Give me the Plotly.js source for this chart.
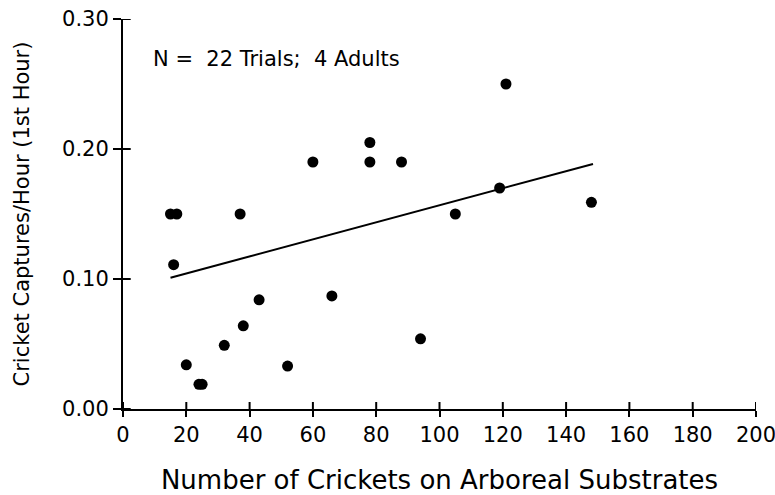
<!DOCTYPE html>
<html>
<head>
<meta charset="utf-8">
<script src="https://cdn.plot.ly/plotly-3.0.1.min.js"></script>
<style>html,body{margin:0;padding:0;background:#fff;}#chart{width:775px;height:495px;}</style>
</head>
<body>
<div id="chart"></div>
<script>
// Number of crickets on arboreal substrates (x) vs captures per hour (y)
const crickets = [15, 17, 16, 37, 20, 24, 25, 32, 38, 43, 52, 66, 94, 60, 78, 78, 88, 121, 119, 105, 148];
const captures = [0.150, 0.150, 0.111, 0.150, 0.034, 0.019, 0.019, 0.049, 0.064, 0.084, 0.033, 0.087, 0.054, 0.190, 0.205, 0.190, 0.190, 0.250, 0.170, 0.150, 0.159];
// Regression line endpoints as drawn
const fitX = [15, 148.5];
const fitY = [0.101, 0.1885];
const xRange = [0, 200];
const yRange = [0, 0.30];
const xTicks = [0, 20, 40, 60, 80, 100, 120, 140, 160, 180, 200];
const yTicks = [0.00, 0.10, 0.20, 0.30];
const noteText = "N =  22 Trials;  4 Adults";
const xTitle = "Number of Crickets on Arboreal Substrates";
const yTitle = "Cricket Captures/Hour (1st Hour)";

const font = "DejaVu Sans, Liberation Sans, sans-serif";

const traces = [
  {x: fitX, y: fitY, mode: 'lines', line: {color: '#000', width: 2}, hoverinfo: 'skip', showlegend: false},
  {x: crickets, y: captures, mode: 'markers', marker: {color: '#000', size: 11}, showlegend: false},
  // inner half of the cross-through tick marks at the axis tick positions
  {x: xTicks, y: xTicks.map(() => yRange[0]), mode: 'markers', hoverinfo: 'skip', showlegend: false,
   marker: {symbol: 'line-ns-open', size: 10, color: '#000', line: {color: '#000', width: 2}}},
  {x: yTicks.map(() => xRange[0]), y: yTicks, mode: 'markers', hoverinfo: 'skip', showlegend: false,
   marker: {symbol: 'line-ew-open', size: 11, color: '#000', line: {color: '#000', width: 2}}}
];

const layout = {
  width: 775, height: 495,
  margin: {l: 123, r: 19, t: 19, b: 86},
  paper_bgcolor: '#fff', plot_bgcolor: '#fff',
  showlegend: false,
  font: {family: font, color: '#000'},
  xaxis: {
    range: xRange, tickmode: 'array', tickvals: xTicks, ticktext: xTicks.map(String),
    showgrid: false, zeroline: false, showline: true, linecolor: '#000', linewidth: 2,
    ticks: 'outside', ticklen: 6, tickwidth: 2, tickcolor: '#000',
    tickfont: {family: font, size: 21, color: '#000'}, ticklabeloverflow: 'allow',
    title: {text: xTitle, font: {family: font, size: 26, color: '#000'}, standoff: 26},
    automargin: false, fixedrange: true
  },
  yaxis: {
    range: yRange, tickmode: 'array', tickvals: yTicks, ticktext: yTicks.map(v => v.toFixed(2)),
    showgrid: false, zeroline: false, showline: true, linecolor: '#000', linewidth: 2,
    ticks: 'outside', ticklen: 8, tickwidth: 2, tickcolor: '#000',
    tickfont: {family: font, size: 21, color: '#000'}, ticklabeloverflow: 'allow',
    title: {text: yTitle, font: {family: font, size: 21, color: '#000'}, standoff: 27},
    automargin: false, fixedrange: true
  },
  annotations: [{
    x: 9, y: 0.269, xref: 'x', yref: 'y', xanchor: 'left', yanchor: 'middle',
    text: noteText, showarrow: false, font: {family: font, size: 21, color: '#000'}
  }]
};

Plotly.newPlot('chart', traces, layout, {displayModeBar: false, staticPlot: true});
</script>
</body>
</html>
